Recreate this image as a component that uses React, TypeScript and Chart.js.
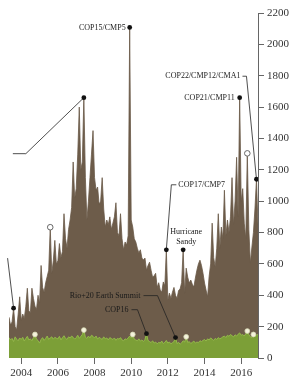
import React, { useEffect, useRef } from 'react';
import { Chart, registerables } from 'chart.js';

Chart.register(...registerables);

// Monthly series from May 2003 to Dec 2016
const startYear = 2003;
const startMonth = 5;

const totalMentions = [
  // 2003 (May-Dec)
  260, 210, 230, 318, 200, 180, 280, 390,
  // 2004
  240, 280, 250, 330, 445, 300, 290, 445, 380, 330, 310, 400,
  // 2005
  350, 590, 450, 420, 480, 520, 560, 834, 540, 620, 750, 600,
  // 2006
  620, 730, 640, 680, 920, 760, 700, 820, 880, 960, 1250, 1020,
  // 2007
  1080, 1300, 1600, 1200, 1250, 1660, 1150, 880, 1000, 1150, 1300, 1450,
  // 2008
  1150, 1070, 1090, 980, 1000, 1150, 950, 835, 880, 850, 900, 820,
  // 2009
  860, 900, 990, 800, 780, 920, 760, 690, 740, 720, 780, 2108,
  // 2010
  880, 835, 760, 740, 700, 670, 690, 637, 625, 637, 560, 590,
  // 2011
  611, 560, 515, 525, 540, 450, 480, 433, 420, 485, 460, 690,
  // 2012
  370, 414, 380, 420, 450, 400, 380, 430, 440, 480, 690, 414,
  // 2013
  573, 515, 478, 497, 470, 452, 510, 560, 600, 624, 590, 540,
  // 2014
  478, 433, 390, 520, 600, 860, 640, 580, 700, 920, 700, 835,
  // 2015
  760, 1070, 780, 880, 800, 900, 1150, 850, 1000, 1280, 900, 1660,
  // 2016
  1000, 1080, 860, 760, 1305, 820, 605, 707, 800, 950, 1140, 850,
];

const greenMentions = [
  // 2003 (May-Dec)
  130, 115, 125, 105, 135, 120, 110, 128,
  // 2004
  118, 132, 108, 125, 138, 115, 122, 110, 130, 150, 120, 112,
  // 2005
  95, 118, 130, 112, 125, 140, 118, 128, 135, 120, 132, 126,
  // 2006
  122, 138, 115, 130, 142, 125, 118, 135, 128, 140, 132, 120,
  // 2007
  130, 145, 125, 138, 150, 178, 132, 125, 140, 128, 145, 138,
  // 2008
  128, 140, 120, 132, 125, 118, 135, 122, 128, 115, 130, 124,
  // 2009
  118, 128, 112, 125, 120, 130, 115, 110, 122, 118, 128, 140,
  // 2010
  128, 150, 120, 115, 110, 122, 108, 115, 105, 118, 155, 112,
  // 2011
  105, 98, 110, 95, 102, 90, 100, 95, 108, 92, 100, 112,
  // 2012
  95, 102, 90, 98, 105, 130, 92, 100, 88, 96, 110, 102,
  // 2013
  135, 98, 105, 92, 100, 108, 95, 102, 98, 110, 105, 112,
  // 2014
  118, 108, 122, 115, 128, 120, 112, 125, 118, 130, 122, 128,
  // 2015
  135, 140, 130, 145, 138, 150, 142, 135, 148, 140, 152, 160,
  // 2016
  145, 150, 140, 155, 172, 148, 135, 130, 150, 138, 145, 150,
];

const xTickYears = [2004, 2006, 2008, 2010, 2012, 2014, 2016];
const yTickValues = [0, 200, 400, 600, 800, 1000, 1200, 1400, 1600, 1800, 2000, 2200];

const blackDotsTotal = ['2003-08', '2007-06', '2009-12', '2011-12', '2012-11', '2015-12', '2016-11'];
const blackDotsGreen = ['2010-11', '2012-06'];
const hollowDotsTotal = ['2005-08', '2016-05'];
const whiteDotsGreen = ['2004-10', '2007-06', '2010-02', '2013-01', '2016-05', '2016-09'];

type Note = {
  date: string;
  series: 'total' | 'green';
  lines: string[];
  align: CanvasTextAlign;
  dx: number;
  dy: number;
  path: number[][];
};

const notes: Note[] = [
  { date: '2003-08', series: 'total', lines: [], align: 'right', dx: 0, dy: 0, path: [[-6, -50]] },
  { date: '2007-06', series: 'total', lines: [], align: 'right', dx: 0, dy: 0, path: [[-58, 56], [-71, 56]] },
  { date: '2009-12', series: 'total', lines: ['COP15/CMP5'], align: 'right', dx: -4, dy: 0, path: [] },
  { date: '2016-11', series: 'total', lines: ['COP22/CMP12/CMA1'], align: 'right', dx: -16, dy: -103, path: [[-10, -103], [-14, -103]] },
  { date: '2015-12', series: 'total', lines: ['COP21/CMP11'], align: 'right', dx: -5, dy: 0, path: [] },
  { date: '2011-12', series: 'total', lines: ['COP17/CMP7'], align: 'left', dx: 12, dy: -65, path: [[5, -65], [10, -65]] },
  { date: '2012-11', series: 'total', lines: ['Hurricane', 'Sandy'], align: 'center', dx: 3, dy: -18, path: [] },
  { date: '2012-06', series: 'green', lines: ['Rio+20 Earth Summit'], align: 'right', dx: -35, dy: -42, path: [[-18, -42], [-32, -42]] },
  { date: '2010-11', series: 'green', lines: ['COP16'], align: 'right', dx: -18, dy: -24, path: [[-9, -24], [-15, -24]] },
];

const monthIndex = (d: string) => {
  const [y, m] = d.split('-').map(Number);
  return (y - startYear) * 12 + (m - startMonth);
};
const decYear = (i: number) => startYear + (startMonth - 1 + i) / 12;
const seriesOf = (s: 'total' | 'green') => (s === 'total' ? totalMentions : greenMentions);
const pt = (d: string, s: 'total' | 'green') => {
  const i = monthIndex(d);
  return { x: decYear(i), y: seriesOf(s)[i] };
};

const FONT = '"Liberation Serif", "DejaVu Serif", serif';

const notePlugin = {
  id: 'notes',
  beforeDatasetDraw(chart: any, args: any) {
    if (args.index !== 0) return;
    const { ctx, scales } = chart;
    ctx.save();
    ctx.strokeStyle = '#222';
    ctx.lineWidth = 0.8;
    notes.forEach((n) => {
      if (!n.path.length) return;
      const p = pt(n.date, n.series);
      const px = scales.x.getPixelForValue(p.x);
      const py = scales.y.getPixelForValue(p.y);
      ctx.beginPath();
      ctx.moveTo(px, py);
      n.path.forEach(([dx, dy]) => ctx.lineTo(px + dx, py + dy));
      ctx.stroke();
    });
    ctx.restore();
  },
  afterDatasetsDraw(chart: any) {
    const { ctx, scales } = chart;
    ctx.save();
    ctx.fillStyle = '#1a1a1a';
    ctx.font = `8px ${FONT}`;
    ctx.textBaseline = 'middle';
    notes.forEach((n) => {
      if (!n.lines.length) return;
      const p = pt(n.date, n.series);
      const px = scales.x.getPixelForValue(p.x);
      const py = scales.y.getPixelForValue(p.y);
      ctx.textAlign = n.align;
      n.lines.forEach((t, k) => ctx.fillText(t, px + n.dx, py + n.dy + k * 10));
    });
    ctx.restore();
  },
};

export default function App() {
  const ref = useRef<HTMLCanvasElement>(null);
  useEffect(() => {
    if (!ref.current) return;
    const totalPts = totalMentions.map((v, i) => ({ x: decYear(i), y: v }));
    const greenPts = greenMentions.map((v, i) => ({ x: decYear(i), y: v }));
    const chart = new Chart(ref.current, {
      type: 'line',
      data: {
        datasets: [
          {
            data: [...blackDotsTotal.map((d) => pt(d, 'total')), ...blackDotsGreen.map((d) => pt(d, 'green'))],
            showLine: false,
            pointRadius: 2.4,
            pointBackgroundColor: '#111',
            pointBorderColor: '#111',
            pointBorderWidth: 0,
            order: 0,
          },
          {
            data: whiteDotsGreen.map((d) => pt(d, 'green')),
            showLine: false,
            pointRadius: 2.4,
            pointBackgroundColor: '#f4f2dc',
            pointBorderColor: '#d9dcb8',
            pointBorderWidth: 0.8,
            order: 1,
          },
          {
            data: hollowDotsTotal.map((d) => pt(d, 'total')),
            showLine: false,
            pointRadius: 2.8,
            pointBackgroundColor: '#ffffff',
            pointBorderColor: '#666',
            pointBorderWidth: 1,
            order: 2,
          },
          {
            data: greenPts,
            borderColor: '#94b94a',
            borderWidth: 1,
            backgroundColor: '#7c9f37',
            fill: 'origin',
            pointRadius: 0,
            tension: 0,
            order: 3,
          },
          {
            data: totalPts,
            borderColor: '#6a5947',
            borderWidth: 0.8,
            backgroundColor: '#6d5c4a',
            fill: 'origin',
            pointRadius: 0,
            tension: 0,
            order: 4,
          },
        ],
      },
      options: {
        animation: false,
        responsive: false,
        devicePixelRatio: 1,
        layout: { padding: { left: 9, top: 13, right: 0, bottom: 0 } },
        plugins: { legend: { display: false }, tooltip: { enabled: false } },
        scales: {
          x: {
            type: 'linear',
            min: decYear(0),
            max: decYear(totalMentions.length - 1),
            position: 'bottom',
            border: { display: false },
            grid: { drawOnChartArea: false, drawTicks: true, tickLength: 6, color: '#666' },
            ticks: {
              font: { family: FONT, size: 11 },
              color: '#333',
              padding: 3,
              autoSkip: false,
              maxRotation: 0,
              callback: (v: any) => String(v),
            },
            afterBuildTicks: (s: any) => {
              s.ticks = xTickYears.map((v) => ({ value: v }));
            },
            afterFit: (s: any) => {
              s.height = 30;
            },
          },
          y: {
            type: 'linear',
            position: 'right',
            min: 0,
            max: 2200,
            border: { display: true, color: '#666', width: 1 },
            grid: { drawOnChartArea: false, drawTicks: true, tickLength: 6, color: '#666' },
            ticks: {
              font: { family: FONT, size: 11 },
              color: '#333',
              padding: 3,
              autoSkip: false,
              callback: (v: any) => String(v),
            },
            afterBuildTicks: (s: any) => {
              s.ticks = yTickValues.map((v) => ({ value: v }));
            },
            afterFit: (s: any) => {
              s.width = 33;
            },
          },
        },
      },
      plugins: [notePlugin],
    });
    return () => chart.destroy();
  }, []);

  return (
    <div style={{ position: 'absolute', left: 0, top: 0, width: 291, height: 388, background: '#fff' }}>
      <canvas ref={ref} width={291} height={388} style={{ display: 'block', width: 291, height: 388 }} />
    </div>
  );
}
